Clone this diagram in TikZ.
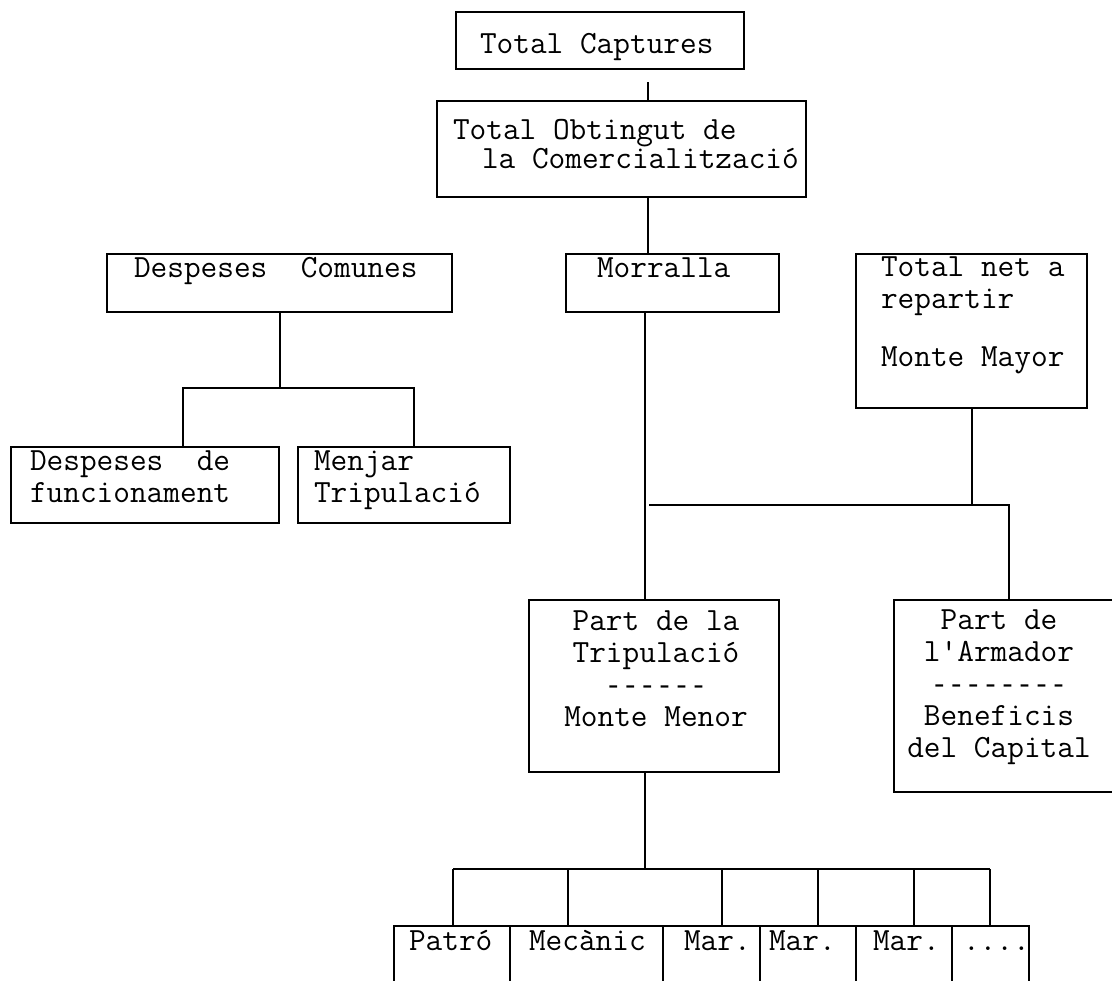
\documentclass[tikz,border=0pt]{standalone}
\usepackage{fontspec}
\newfontfamily\dashfont{Liberation Mono}

\begin{document}
\begin{tikzpicture}[x=0.5pt, y=-0.5pt, line width=1pt,
  box/.style={draw, inner sep=0pt},
  txt/.style={inner sep=0pt, align=left, anchor=base west, font=\ttfamily\fontsize{16.19}{16}\selectfont},
  ctxt/.style={txt, align=center, anchor=base}]
\useasboundingbox (0,0) rectangle (1112,980);

\node[box, minimum width=144pt, minimum height=28.5pt] (tc) at (600,40.5) {};
\node[box, minimum width=184.5pt, minimum height=48pt] (to) at (621.5,149) {};
\node[box, minimum width=172.5pt, minimum height=29pt] (dc) at (279.5,283) {};
\node[box, minimum width=106.5pt, minimum height=29pt] (mo) at (672.5,283) {};
\node[box, minimum width=115.5pt, minimum height=77pt] (tn) at (971.5,331) {};
\node[box, minimum width=134pt, minimum height=38pt] (df) at (145,485) {};
\node[box, minimum width=106pt, minimum height=38pt] (mj) at (404,485) {};
\node[box, minimum width=125pt, minimum height=86pt] (pt) at (654,686) {};
\node[box, minimum width=111pt, minimum height=96pt] (pa) at (1005,696) {};

\node[txt] (tc-t) at (479,53) {Total Captures};
\node[txt, font=\ttfamily\fontsize{16.19}{14.5}\selectfont] (to-t) at (452,168) {Total Obtingut de\\\hspace*{14.5pt}la Comercialització};
\node[txt] (dc-t) at (133,277) {Despeses\ \ Comunes};
\node[txt] (mo-t) at (596,277) {Morralla};
\node[txt] (tn-t) at (880,366) {Total net a\\repartir\\[13pt]Monte Mayor};
\node[txt] (df-t) at (29,502) {Despeses\ \ de\\funcionament};
\node[txt] (mj-t) at (313,502) {Menjar\\Tripulació};
\node[ctxt] (pt-t) at (656,726) {Part de la\\Tripulació\\{\dashfont\fontsize{14.17}{16}\selectfont ------}\\Monte Menor};
\node[ctxt, font=\ttfamily\fontsize{16.19}{15.9}\selectfont] (pa-t) at (999,757) {Part de\\l'Armador\\{\dashfont\fontsize{14.17}{15.9}\selectfont --------}\\Beneficis\\del Capital};

\foreach \n/\cx/\w/\tx/\t in {pat/452/58pt/408/Patró, mec/586.5/76.5pt/528/Mecànic,
    ma1/711.5/48.5pt/683/Mar., ma2/808/48pt/768/Mar., ma3/904/48pt/872/Mar.} {
  \node[box, minimum width=\w, minimum height=37pt] (\n) at (\cx,963) {};
  \node[txt] (\n-t) at (\tx,950) {\t};
}
\node[box, minimum width=38.5pt, minimum height=37pt] (dot) at (990.5,963) {};
\node[txt] (dot-t) at (962,950) {....};

\coordinate (c1) at (648,82);
\coordinate (k) at (645,505);
\coordinate (j2) at (1009,505);
\coordinate (d1) at (183,388);
\coordinate (d2) at (414,388);
\coordinate (bus) at (645,869);

\draw (c1) -- (to.north -| c1);
\draw (to.south -| c1) -- (mo.north -| c1);
\draw (dc.south) -- (dc.south |- d1);
\draw (df.north -| d1) -- (d1) -- (d2) -- (mj.north -| d2);
\draw (mo.south -| k) -- (pt.north -| k);
\draw ([xshift=2pt]k) -- (j2) -- (pa.north -| j2);
\draw (tn.south) -- (tn.south |- k);
\draw (pt.south -| bus) -- (bus);
\foreach \n/\x in {pat/453, mec/568, ma1/722, ma2/818, ma3/914, dot/990} {
  \coordinate (bd-\n) at (\x,869);
  \draw (bd-\n) -- (\n.north -| bd-\n);
}
\draw (bd-pat) -- (bd-dot);
\end{tikzpicture}
\end{document}
